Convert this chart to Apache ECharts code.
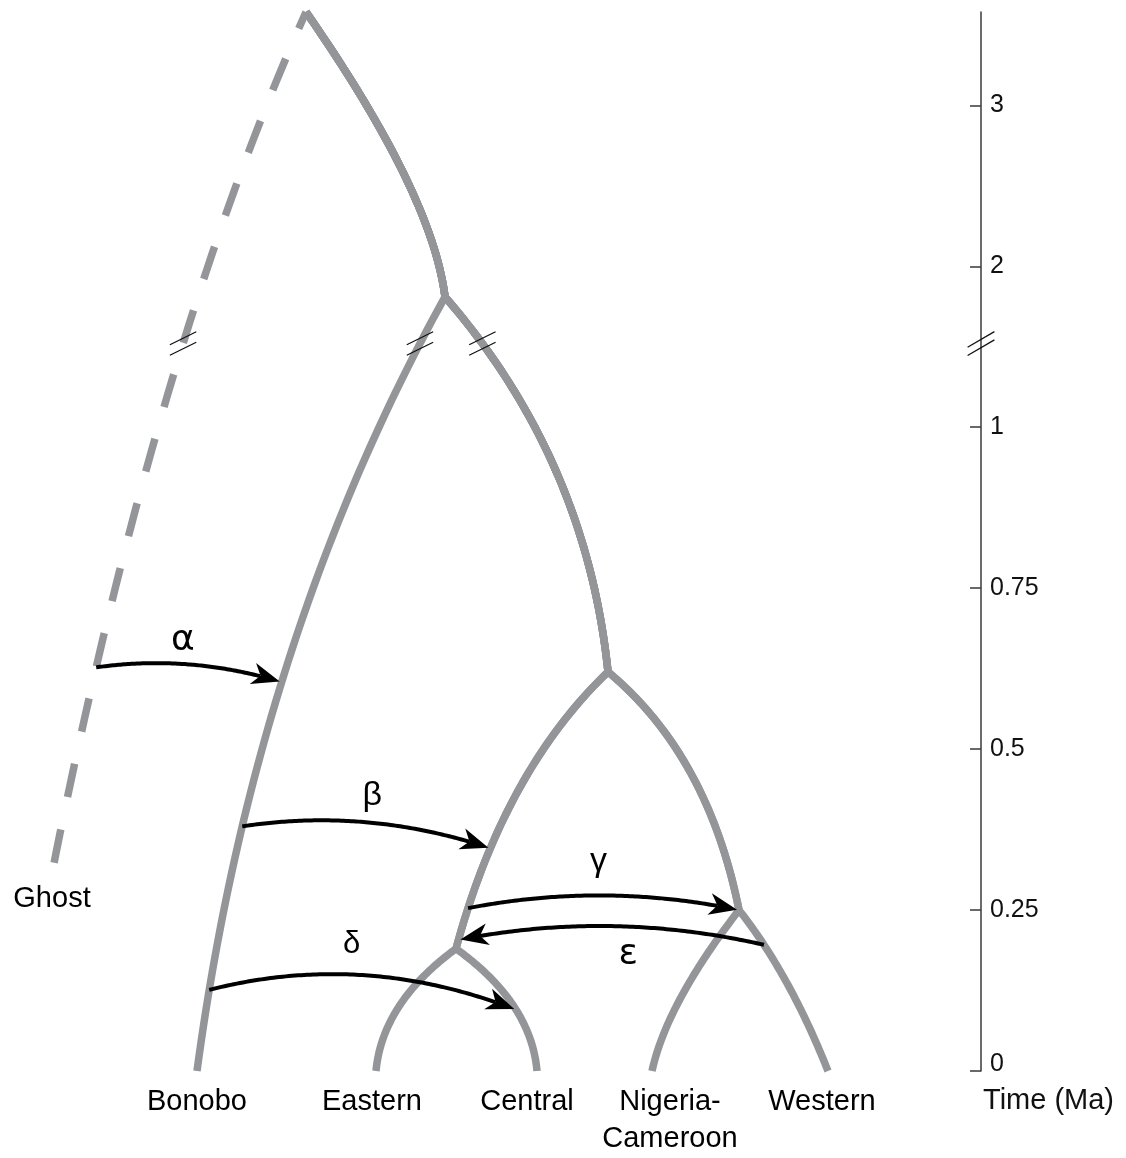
<!DOCTYPE html>
<html><head><meta charset="utf-8">
<script src="https://cdn.jsdelivr.net/npm/echarts@6/dist/echarts.min.js"></script>
<style>html,body{margin:0;padding:0;background:#fff}#c{width:1126px;height:1158px}</style>
</head><body><div id="c"></div>
<script>
// ---------------- data ----------------
// tree nodes: divergence time (Ma) and horizontal lane position
const nodeNames = ['Root','Pan','Chimpanzee','Central-Eastern','Nigeria-Western','Ghost','Bonobo','Eastern','Central','Nigeria-Cameroon','Western'];
const nodeTimes = [3.58, 1.81, 0.62, 0.19, 0.25, 0.315, 0, 0, 0, 0, 0];
const nodeLanes = [306, 445, 608, 456, 739, 53, 197, 376, 537, 652, 828];
// branches (parent -> child)
const edgeParents  = ['Root','Root','Pan','Pan','Chimpanzee','Chimpanzee','Central-Eastern','Central-Eastern','Nigeria-Western','Nigeria-Western'];
const edgeChildren = ['Ghost','Pan','Bonobo','Chimpanzee','Central-Eastern','Nigeria-Western','Eastern','Central','Nigeria-Cameroon','Western'];
// tips
const tipNames  = ['Ghost','Bonobo','Eastern','Central','Nigeria-Cameroon','Western'];
const tipLabels = ['Ghost','Bonobo','Eastern','Central','Nigeria-\nCameroon','Western'];
const ghostTips = ['Ghost'];
// gene flow events
const migLabels   = ['α','β','γ','δ','ε'];
const migFromEdge = ['Ghost','Bonobo','Central-Eastern','Bonobo','Western'];
const migFromTime = [0.627, 0.380, 0.253, 0.126, 0.196];
const migToEdge   = ['Bonobo','Central-Eastern','Nigeria-Western','Central','Central-Eastern'];
const migToTime   = [0.604, 0.346, 0.25, 0.095, 0.2035];
// time axis
const tickTimes  = [0, 0.25, 0.5, 0.75, 1, 2, 3];
const tickLabels = ['0','0.25','0.5','0.75','1','2','3'];
const breakBetween = [1, 2];

// ---------------- styling ----------------
const GRAY = '#939598';
const FONT = "'Liberation Sans', Arial, Helvetica, sans-serif";
const GREEK_FONT = {
  'α': "36px 'DejaVu Sans', sans-serif",
  'β': "34px 'Liberation Sans', Arial, sans-serif",
  'γ': "34px 'Liberation Sans', Arial, sans-serif",
  'δ': "31px 'Liberation Sans', Arial, sans-serif",
  'ε': "36px 'DejaVu Sans', sans-serif"
};
const LOWER_SCALE = 4;          // axis units per Ma below the break
const BREAK_DISP = 4.52;        // where the break marks sit on the axis
const LANE_MAX = 981;
const BEND = {
  'Ghost':[0.41,0.39], 'Pan':[0.094,0.635], 'Bonobo':[0.234,0.443], 'Chimpanzee':[0.135,0.432],
  'Central-Eastern':[0.316,0.36], 'Nigeria-Western':[0.237,0.349], 'Eastern':[0.08,0.44],
  'Central':[0.074,0.44], 'Nigeria-Cameroon':[0.17,0.58], 'Western':[0.43,0.40]
};
const ARROW_SAG = {'α':0.055,'β':0.06,'γ':0.05,'δ':0.08,'ε':0.053};
const LABEL_OFFSET = {'α':[-6,-24],'β':[6,-27],'γ':[-5,-34],'δ':[-11,-31],'ε':[17,28]};
const TIP_LABEL_DX = {'Ghost':-1,'Bonobo':0,'Eastern':-4,'Central':-10,'Nigeria-Cameroon':18,'Western':-6};

function disp(t){ return t <= breakBetween[0] ? t*LOWER_SCALE : breakBetween[0]*LOWER_SCALE + (t - breakBetween[0]); }
const tickDisp = tickTimes.map(disp);

function nodePx(name, api){ const i = nodeNames.indexOf(name); return api.coord([nodeLanes[i], disp(nodeTimes[i])]); }
function edgeGeom(child, api){
  const j = edgeChildren.indexOf(child);
  const p0 = nodePx(edgeParents[j], api), p2 = nodePx(child, api);
  const b = BEND[child];
  return {p0: p0, c: [p2[0] + b[0]*(p0[0]-p2[0]), p0[1] + b[1]*(p2[1]-p0[1])], p2: p2};
}
function bez(g, t){ const u = 1-t; return [u*u*g.p0[0]+2*u*t*g.c[0]+t*t*g.p2[0], u*u*g.p0[1]+2*u*t*g.c[1]+t*t*g.p2[1]]; }
function sample(g, n){ const pts = []; for (let k = 0; k <= n; k++) pts.push(bez(g, k/n)); return pts; }
function tAtY(g, y){ let lo = 0, hi = 1; for (let k = 0; k < 50; k++){ const m = (lo+hi)/2; if (bez(g, m)[1] < y) lo = m; else hi = m; } return (lo+hi)/2; }
function pointOnEdgeDisp(child, d, api){ const g = edgeGeom(child, api); const y = api.coord([0, d])[1]; return bez(g, tAtY(g, y)); }
function lineage(tip){ const path = []; let n = tip; while (edgeChildren.indexOf(n) >= 0){ path.unshift(n); n = edgeParents[edgeChildren.indexOf(n)]; } return path; }
function lineagePoints(tip, api){
  let pts = [];
  lineage(tip).forEach(function(e){ const s = sample(edgeGeom(e, api), 60); pts = pts.concat(pts.length ? s.slice(1) : s); });
  return pts;
}
// cut a polyline into dashes by arc length (first dash may be partial)
function dashes(pts, dash, gap, firstDash){
  const out = []; let cur = [pts[0]]; let on = true; let left = firstDash;
  for (let k = 1; k < pts.length; k++){
    let a = pts[k-1]; const b = pts[k];
    let segLen = Math.hypot(b[0]-a[0], b[1]-a[1]);
    while (segLen > left){
      const f = left / segLen;
      const p = [a[0] + (b[0]-a[0])*f, a[1] + (b[1]-a[1])*f];
      if (on){ cur.push(p); out.push(cur); } else { cur = [p]; }
      on = !on; segLen -= left; a = p; left = on ? dash : gap;
      if (on) cur = [p];
    }
    left -= segLen;
    if (on) cur.push(b);
  }
  if (on && cur.length > 1) out.push(cur);
  return out;
}

const solidTips = tipNames.filter(n => ghostTips.indexOf(n) < 0);

function arrowShape(a, b0, sagFrac){
  const len = Math.hypot(b0[0]-a[0], b0[1]-a[1]);
  const c = [(a[0]+b0[0])/2, (a[1]+b0[1])/2 - 2*sagFrac*len];
  let d = [b0[0]-c[0], b0[1]-c[1]]; const dl = Math.hypot(d[0], d[1]); d = [d[0]/dl, d[1]/dl];
  const b = [b0[0]-2*d[0], b0[1]-2*d[1]];
  const g = {p0: a, c: c, p2: b};
  const n = [-d[1], d[0]];
  const L = 28, W = 11, N = 8;
  const notch = [b[0]-(L-N)*d[0], b[1]-(L-N)*d[1]];
  const pts = sample(g, 100).filter(p => Math.hypot(p[0]-b[0], p[1]-b[1]) > L-N);
  pts.push(notch);
  const head = [b, [b[0]-L*d[0]+W*n[0], b[1]-L*d[1]+W*n[1]], notch, [b[0]-L*d[0]-W*n[0], b[1]-L*d[1]-W*n[1]]];
  return {pts: pts, head: head, mid: bez({p0: a, c: c, p2: b0}, 0.5)};
}

function breakMark(cx, cy, sep, hx, hy){
  return [-1, 1].map(s => ({
    type: 'line',
    shape: {x1: cx-hx, y1: cy + s*sep/2 + hy, x2: cx+hx, y2: cy + s*sep/2 - hy},
    style: {stroke: '#111', lineWidth: 1.3}
  }));
}

const chart = echarts.init(document.getElementById('c'), null, {renderer: 'canvas'});
chart.setOption({
  animation: false,
  backgroundColor: '#fff',
  grid: {left: 0, right: 1126 - LANE_MAX, top: 12, bottom: 87, containLabel: false, outerBoundsMode: 'none'},
  xAxis: {type: 'value', min: 0, max: LANE_MAX, show: false},
  yAxis: {
    type: 'value', position: 'right', min: 0, max: disp(nodeTimes[0]),
    axisLine: {show: true, onZero: false, lineStyle: {color: '#3a3a3a', width: 1.5}},
    axisTick: {show: true, inside: true, length: 11, customValues: tickDisp, lineStyle: {color: '#3a3a3a', width: 1.5}},
    axisLabel: {
      show: true, margin: 9, customValues: tickDisp, color: '#111', fontSize: 25, fontFamily: FONT,
      formatter: function(v){
        let k = -1; tickDisp.forEach((d, i) => { if (Math.abs(d - v) < 1e-6) k = i; });
        if (k < 0) return '';
        return k === 0 ? '{z|' + tickLabels[k] + '}' : tickLabels[k];
      },
      rich: {z: {fontSize: 25, fontFamily: FONT, color: '#111', padding: [0, 0, 14, 0]}}
    },
    splitLine: {show: false},
    name: 'Time (Ma)', nameLocation: 'start', nameGap: 30, nameMoveOverlap: false,
    nameTextStyle: {fontSize: 29, fontFamily: FONT, color: '#111', align: 'left', verticalAlign: 'middle', padding: [0, 0, 0, 2]}
  },
  series: [
    {
      name: 'lineages', type: 'custom', coordinateSystem: 'cartesian2d', silent: true, z: 2,
      data: solidTips.map((n, i) => [i]),
      renderItem: function(params, api){
        const pts = lineagePoints(solidTips[params.dataIndex], api);
        return {type: 'polyline', shape: {points: pts}, style: {stroke: GRAY, lineWidth: 7.5, fill: null, lineJoin: 'round', lineCap: 'butt'}};
      }
    },
    {
      name: 'ghost', type: 'custom', coordinateSystem: 'cartesian2d', silent: true, z: 2,
      data: ghostTips.map((n, i) => [i]),
      renderItem: function(params, api){
        const pts = lineagePoints(ghostTips[params.dataIndex], api);
        return {type: 'group', children: dashes(pts, 34, 33, 18).map(seg => ({
          type: 'polyline', shape: {points: seg}, style: {stroke: GRAY, lineWidth: 7.5, fill: null, lineCap: 'butt'}
        }))};
      }
    },
    {
      name: 'gene flow', type: 'custom', coordinateSystem: 'cartesian2d', silent: true, z: 4,
      data: migLabels.map((n, i) => [i]),
      renderItem: function(params, api){
        const i = params.dataIndex, lab = migLabels[i];
        const a = pointOnEdgeDisp(migFromEdge[i], disp(migFromTime[i]), api);
        const b = pointOnEdgeDisp(migToEdge[i], disp(migToTime[i]), api);
        const s = arrowShape(a, b, ARROW_SAG[lab]);
        const off = LABEL_OFFSET[lab];
        return {type: 'group', children: [
          {type: 'polyline', shape: {points: s.pts}, style: {stroke: '#000', lineWidth: 4, fill: null, lineCap: 'butt', lineJoin: 'round'}},
          {type: 'polygon', shape: {points: s.head}, style: {fill: '#000', stroke: null}},
          {type: 'text', x: s.mid[0] + off[0], y: s.mid[1] + off[1],
           style: {text: lab, fill: '#000', font: GREEK_FONT[lab], align: 'center', verticalAlign: 'middle'}}
        ]};
      }
    },
    {
      name: 'breaks', type: 'custom', coordinateSystem: 'cartesian2d', silent: true, z: 5,
      data: [[0]],
      renderItem: function(params, api){
        const children = [];
        edgeChildren.forEach(function(e, j){
          const pi = nodeNames.indexOf(edgeParents[j]), ci = nodeNames.indexOf(e);
          if (disp(nodeTimes[pi]) > BREAK_DISP && disp(nodeTimes[ci]) < BREAK_DISP){
            const p = pointOnEdgeDisp(e, BREAK_DISP, api);
            breakMark(p[0], p[1], 10.5, 13.2, 6.5).forEach(c => children.push(c));
          }
        });
        const ax = api.coord([LANE_MAX, BREAK_DISP]);
        breakMark(ax[0], ax[1], 8.3, 13.4, 7.8).forEach(c => children.push(c));
        return {type: 'group', children: children};
      }
    },
    {
      name: 'tips', type: 'custom', coordinateSystem: 'cartesian2d', silent: true, z: 5,
      data: tipNames.map((n, i) => [i]),
      renderItem: function(params, api){
        const name = tipNames[params.dataIndex];
        const p = nodePx(name, api);
        return {type: 'text', x: p[0] + TIP_LABEL_DX[name], y: p[1] + 12,
          style: {text: tipLabels[params.dataIndex], fill: '#000', font: '29px ' + FONT, lineHeight: 37, align: 'center', verticalAlign: 'top'}};
      }
    }
  ]
});
</script>
</body></html>
